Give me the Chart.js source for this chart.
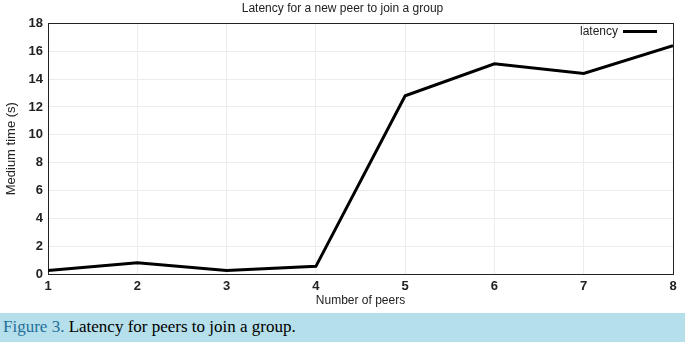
<!DOCTYPE html>
<html>
<head>
<meta charset="utf-8">
<script src="https://cdn.jsdelivr.net/npm/chart.js@4"></script>
<style>
  body { margin: 0; background: #fff; width: 685px; height: 342px; overflow: hidden; }
  #wrap { position: relative; width: 685px; height: 308px; }
  #caption {
    position: absolute; left: 0; top: 313px; width: 685px; height: 29px;
    background: #b5dfea; font-family: "Liberation Serif", serif; font-size: 17px;
    line-height: 27px; padding-left: 3px; box-sizing: border-box; color: #000;
  }
  #caption b { color: #1f6f9a; font-weight: normal; }
</style>
</head>
<body>
<div id="wrap"><canvas id="grafic"></canvas></div>
<div id="caption"><b>Figure 3.</b> Latency for peers to join a group.</div>
<script>
// dades
const peers = [1, 2, 3, 4, 5, 6, 7, 8];
const latencia = [0.25, 0.8, 0.25, 0.55, 12.8, 15.1, 14.4, 16.4];
const yTicks = [0, 2, 4, 6, 8, 10, 12, 14, 16, 18];

const font = "'Liberation Sans', Arial, sans-serif";

// llegenda a dalt a la dreta, text i despres la linia (estil gnuplot)
const llegenda = {
  id: "llegenda",
  afterDraw(chart) {
    const { ctx, chartArea } = chart;
    const ds = chart.data.datasets[0];
    const yy = chartArea.top + 8;
    const x1 = chartArea.right - 16, x0 = x1 - 34;
    ctx.save();
    ctx.font = "12px " + font;
    ctx.fillStyle = "#222";
    ctx.textAlign = "right";
    ctx.textBaseline = "middle";
    ctx.fillText(ds.label, x0 - 5, yy);
    ctx.strokeStyle = ds.borderColor;
    ctx.lineWidth = 3;
    ctx.beginPath();
    ctx.moveTo(x0, yy);
    ctx.lineTo(x1, yy);
    ctx.stroke();
    ctx.restore();
  }
};

let node = document.querySelector("#grafic");
let myChart = new Chart(node, {
  type: "line",
  data: {
    labels: peers,
    datasets: [{
      label: "latency",
      data: peers.map((p, i) => ({ x: p, y: latencia[i] })),
      borderColor: "#000",
      backgroundColor: "#000",
      borderWidth: 3,
      pointRadius: 0,
      tension: 0
    }]
  },
  plugins: [llegenda],
  options: {
    responsive: true,
    maintainAspectRatio: false,
    animation: false,
    layout: { padding: { top: 1, right: 4, left: 4, bottom: 0 } },
    plugins: {
      title: {
        display: true,
        text: "Latency for a new peer to join a group",
        color: "#222",
        font: { family: font, size: 12, weight: "normal" },
        padding: { top: 0, bottom: 0 }
      },
      legend: { display: false },
      tooltip: { enabled: false }
    },
    scales: {
      x: {
        type: "linear",
        min: 1, max: 8,
        afterBuildTicks: a => { a.ticks = peers.map(v => ({ value: v })); },
        grid: { color: "#ececec", drawTicks: false },
        border: { color: "#222", width: 1 },
        ticks: { color: "#222", font: { family: font, size: 13, weight: "bold" }, padding: 5 },
        title: { display: true, text: "Number of peers", color: "#222",
                 font: { family: font, size: 12 }, padding: { top: -6, bottom: 0 } }
      },
      x2: {
        type: "linear", position: "top", min: 1, max: 8,
        grid: { display: false }, border: { color: "#222", width: 1 },
        ticks: { display: false }
      },
      y: {
        min: 0, max: 18,
        afterBuildTicks: a => { a.ticks = yTicks.map(v => ({ value: v })); },
        grid: { color: "#ececec", drawTicks: false },
        border: { color: "#222", width: 1 },
        ticks: { color: "#222", font: { family: font, size: 13, weight: "bold" }, padding: 5 },
        title: { display: true, text: "Medium time (s)", color: "#222",
                 font: { family: font, size: 13 }, padding: { top: 0, bottom: 4 } }
      },
      y2: {
        position: "right", min: 0, max: 18,
        grid: { display: false }, border: { color: "#222", width: 1 },
        ticks: { display: false }
      }
    }
  }
});
</script>
</body>
</html>
